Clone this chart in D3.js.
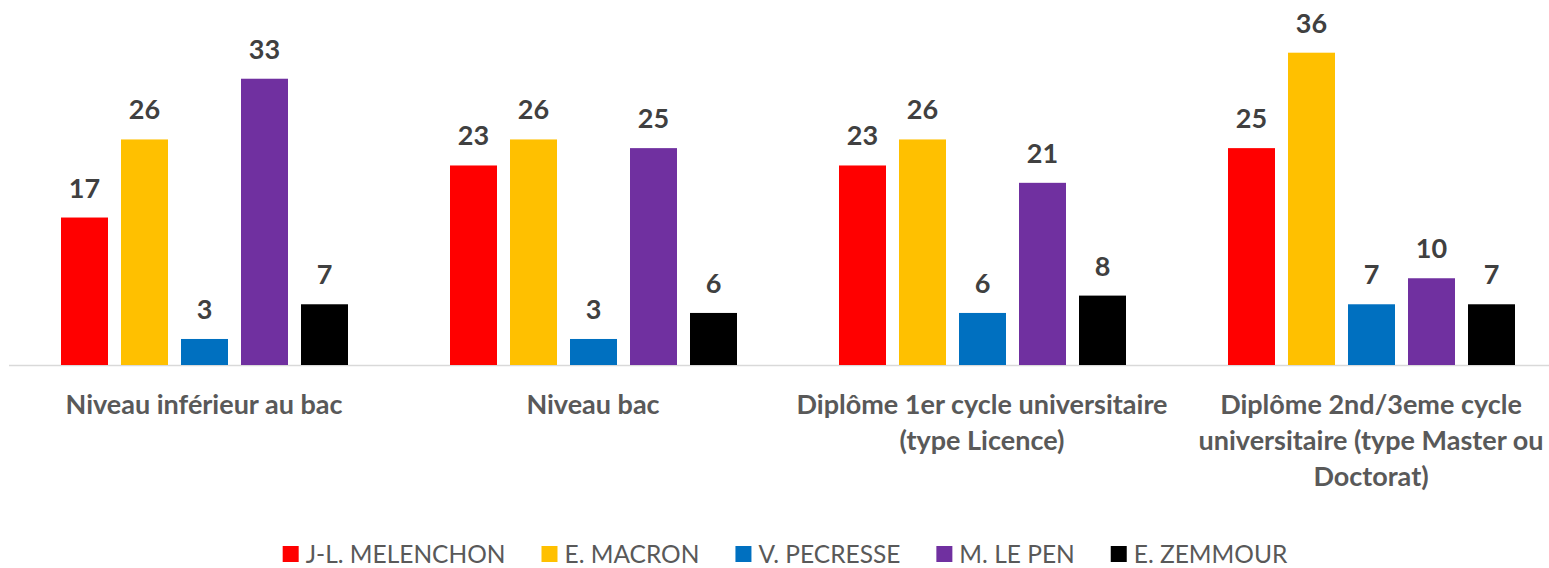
<!DOCTYPE html>
<html><head><meta charset="utf-8">
<script src="https://cdn.jsdelivr.net/npm/d3@7"></script>
<style>body{margin:0;background:#fff}svg{display:block}</style>
</head><body>
<svg id="c" width="1549" height="568"></svg>
<script>
const categories = [
  ["Niveau inférieur au bac"],
  ["Niveau bac"],
  ["Diplôme 1er cycle universitaire", "(type Licence)"],
  ["Diplôme 2nd/3eme cycle", "universitaire (type Master ou", "Doctorat)"]
];
const seriesNames = ["J-L. MELENCHON", "E. MACRON", "V. PECRESSE", "M. LE PEN", "E. ZEMMOUR"];
const seriesColors = ["#FF0000", "#FFC000", "#0070C0", "#7030A0", "#000000"];
const melenchon = [17, 23, 23, 25];
const macron = [26, 26, 26, 36];
const pecresse = [3, 3, 6, 7];
const lepen = [33, 25, 21, 10];
const zemmour = [7, 6, 8, 7];
const seriesValues = [melenchon, macron, pecresse, lepen, zemmour];

const svg = d3.select("#c");
const catIdx = d3.range(categories.length);
const x0 = d3.scaleBand().domain(catIdx).range([9.5, 1565.5]).padding(0);
const x1 = d3.scaleBand().domain(d3.range(seriesNames.length)).range([51.5, 338.5]).paddingInner(13/60).paddingOuter(0);
const y = d3.scaleLinear().domain([0, 40]).range([365, 18]);

// axis line
svg.append("line").attr("x1", 9).attr("x2", 1549).attr("y1", y(0)+0.5).attr("y2", y(0)+0.5)
  .attr("stroke", "#d9d9d9").attr("stroke-width", 1.5);

const g = svg.selectAll("g.grp").data(catIdx).join("g").attr("class","grp")
  .attr("transform", d => `translate(${x0(d)},0)`);

g.selectAll("rect").data(ci => seriesValues.map((vals, si) => ({si, v: vals[ci]})))
  .join("rect")
  .attr("x", d => x1(d.si)).attr("width", x1.bandwidth())
  .attr("y", d => y(d.v)).attr("height", d => y(0) - y(d.v))
  .attr("fill", d => seriesColors[d.si]);

g.selectAll("text.lbl").data(ci => seriesValues.map((vals, si) => ({si, v: vals[ci]})))
  .join("text").attr("class","lbl")
  .attr("x", d => x1(d.si) + x1.bandwidth()/2).attr("y", d => y(d.v) - 20)
  .attr("text-anchor", "middle")
  .attr("font-family", "Lato, 'Open Sans', sans-serif").attr("font-weight", "bold")
  .attr("font-size", 27).attr("fill", "#404040")
  .text(d => d.v);

// category labels
const cl = svg.selectAll("text.cat").data(catIdx).join("text").attr("class","cat")
  .attr("text-anchor","middle")
  .attr("font-family", "Lato, 'Open Sans', sans-serif").attr("font-weight","bold")
  .attr("font-size", 27).attr("fill", "#595959");
cl.selectAll("tspan").data(ci => categories[ci].map((t,i)=>({t,i,ci})))
  .join("tspan")
  .attr("x", d => x0(d.ci) + x0.bandwidth()/2)
  .attr("y", d => 414 + d.i*36)
  .text(d => d.t);

// legend
const leg = svg.append("g");
const items = leg.selectAll("g").data(seriesNames).join("g");
items.append("rect").attr("width", 16).attr("height", 16).attr("y", 546).attr("fill", (d,i)=>seriesColors[i]);
items.append("text").attr("x", 23).attr("y", 563)
  .attr("font-family", "Lato, 'Open Sans', sans-serif")
  .attr("font-size", 24.5).attr("fill", "#595959").text(d=>d);
let xs = 0; const pos = [];
items.each(function(d,i){ const w = d3.select(this).select("text").node().getComputedTextLength(); pos.push(xs); xs += 23 + w + 36; });
const total = xs - 36;
const start = 785 - total/2;
items.attr("transform", (d,i)=>`translate(${start+pos[i]},0)`);
</script>
</body></html>
